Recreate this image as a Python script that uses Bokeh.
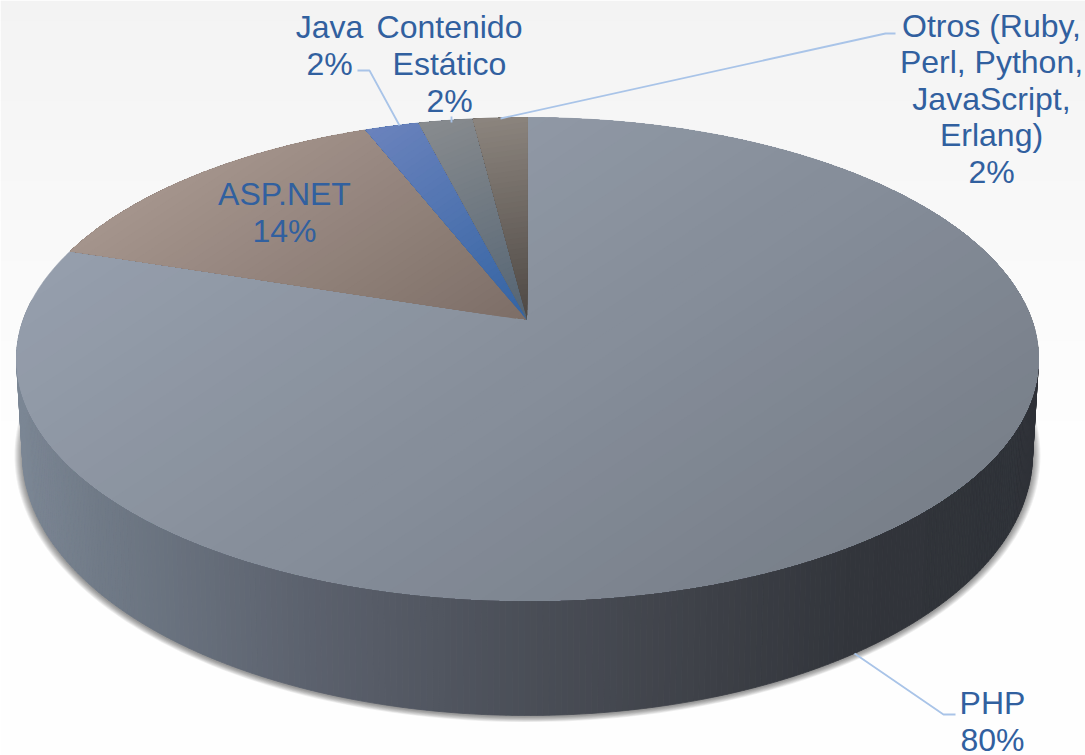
import numpy as np
from bokeh.embed import file_html
from bokeh.models import Range1d
from bokeh.core.properties import value
from bokeh.plotting import figure
from bokeh.resources import INLINE

# Web server technologies, listed clockwise from twelve o'clock.
categories = ["PHP", "ASP.NET", "Java", "Contenido Estático",
              "Otros (Ruby, Perl, Python, JavaScript, Erlang)"]
shares = [80, 14, 2, 2, 2]

label_lines = [["PHP"], ["ASP.NET"], ["Java"], ["Contenido", "Estático"],
               ["Otros (Ruby,", "Perl, Python,", "JavaScript,", "Erlang)"]]

W, H = 1085, 755
AX, AY = 527.0, 320.0          # where the slices meet on the tilted disc
FAR, NEAR = 203.0, 280.0       # distance from that point to the far and near rim
K = (NEAR - FAR) / (NEAR + FAR)
B = FAR * (1 + K)
RX = 511.0
A = RX * np.sqrt(1 - K * K)

TOP_CY, TOP_RY = AY + (NEAR - FAR) / 2, (NEAR + FAR) / 2
BOT_CX, BOT_CY, BOT_RX, BOT_RY = 527.0, 454.0, 505.0, 261.0


def disc(theta, r=1.0):
    """Project a polar position on the flat disc (theta clockwise from the top)."""
    u, v = r * np.sin(theta), r * np.cos(theta)
    d = 1 + K * v
    return AX + A * u / d, AY - B * v / d


def hexcol(c):
    return "#%02x%02x%02x" % tuple(int(round(v)) for v in c)


def keep_above(px, py, nx, ny, level):
    """Clip a polygon to the half-plane nx*x + ny*y >= level."""
    out_x, out_y = [], []
    n = len(px)
    for i in range(n):
        x0, y0, x1, y1 = px[i], py[i], px[(i + 1) % n], py[(i + 1) % n]
        d0, d1 = nx * x0 + ny * y0 - level, nx * x1 + ny * y1 - level
        if d0 >= 0:
            out_x.append(x0)
            out_y.append(y0)
        if (d0 >= 0) != (d1 >= 0):
            s = d0 / (d0 - d1)
            out_x.append(x0 + s * (x1 - x0))
            out_y.append(y0 + s * (y1 - y0))
    return out_x, out_y


# colours at both ends of the shading ramp of each slice: near its point, then at its rim
slice_shades = {
    "ASP.NET": ((125, 110, 103), (165, 149, 141)),
    "Java": ((52, 100, 163), (107, 131, 189)),
    "Contenido Estático": ((84, 100, 115), (137, 140, 143)),
    "Otros (Ruby, Perl, Python, JavaScript, Erlang)": ((78, 72, 68), (141, 134, 127)),
}
PHP_RAMP = ((149.0, 158.0, 172.0), (120.0, 127.0, 137.0))

p = figure(width=W, height=H, output_backend="svg", toolbar_location=None,
           x_range=Range1d(0, W), y_range=Range1d(H, 0), min_border=0,
           outline_line_color=None, background_fill_color="#ffffff",
           border_fill_color="#ffffff")
p.axis.visible = False
p.grid.visible = False

# pale backdrop, fading to white towards the bottom
ys = np.arange(0, H, 10)
bg = [hexcol(np.array((243, 243, 243)) + 11 * min(y / 430, 1)) for y in ys]
p.quad(left=0, right=W, top=ys, bottom=ys + 10.5, fill_color=bg, line_color=None)

# soft shadow under the disc's side wall
t = np.linspace(0, 2 * np.pi, 240)
for k in range(1, 9):
    grow = 9 - k
    p.patch(BOT_CX + (BOT_RX + grow) * np.cos(t), BOT_CY + 1 + (BOT_RY + grow * 0.7) * np.sin(t),
            fill_color="#000000", fill_alpha=0.06, line_color=None)

# side wall: strips running between the top rim and the bottom rim
wall_x = [15, 100, 300, 527, 700, 850, 1040]
wall_r = [124, 112, 92, 74, 62, 50, 46]
wall_g = [135, 122, 98, 78, 65, 53, 49]
wall_b = [149, 135, 110, 87, 72, 59, 55]
edges = np.radians(np.linspace(-14, 194, 300))
wxs, wys, wcs = [], [], []
for a0, a1 in zip(edges[:-1], edges[1:]):
    qx = [527 + RX * np.cos(a0), 527 + RX * np.cos(a1),
          BOT_CX + BOT_RX * np.cos(a1), BOT_CX + BOT_RX * np.cos(a0)]
    qy = [TOP_CY + TOP_RY * np.sin(a0), TOP_CY + TOP_RY * np.sin(a1),
          BOT_CY + BOT_RY * np.sin(a1), BOT_CY + BOT_RY * np.sin(a0)]
    mx = sum(qx) / 4
    wxs.append(qx)
    wys.append(qy)
    wcs.append(hexcol((np.interp(mx, wall_x, wall_r), np.interp(mx, wall_x, wall_g),
                       np.interp(mx, wall_x, wall_b))))
p.patches(wxs, wys, fill_color=wcs, line_color=wcs, line_width=0.8)

# top surface: a wedge per slice, then nested clipped copies that step through its ramp
total = sum(shares)
start = 0.0
base_x, base_y, base_c, band_x, band_y, band_c = [], [], [], [], [], []
for name, share in zip(categories, shares):
    span = share / total * 2 * np.pi
    arc = start + np.linspace(0, span, max(12, int(share * 6)))
    rim_x, rim_y = disc(arc)
    wedge_x = [AX] + list(rim_x)
    wedge_y = [AY] + list(rim_y)
    if name == "PHP":
        # darkens towards the lower right
        nx, ny, bands = 0.55, 0.83, 36
        c0, c1 = PHP_RAMP
    elif name == "ASP.NET":
        # lightens towards the upper left
        nx, ny, bands = -0.55, -0.83, 40
        c0, c1 = slice_shades[name]
    else:
        # darkens from the rim towards the point
        mx_, my_ = disc(start + span / 2)
        length = np.hypot(mx_ - AX, my_ - AY)
        nx, ny, bands = (mx_ - AX) / length, (my_ - AY) / length, 40
        c0, c1 = slice_shades[name]
    proj = nx * np.array(wedge_x) + ny * np.array(wedge_y)
    lo, hi = proj.min(), proj.max()
    base_x.append(wedge_x)
    base_y.append(wedge_y)
    base_c.append(hexcol(c0))
    for i in range(1, bands):
        f = i / bands
        cx_, cy_ = keep_above(wedge_x, wedge_y, nx, ny, lo + f * (hi - lo))
        if len(cx_) >= 3:
            band_x.append(cx_)
            band_y.append(cy_)
            band_c.append(hexcol(np.array(c0) + (np.array(c1) - np.array(c0)) * f))
    start += span
p.patches(base_x, base_y, fill_color=base_c, line_color=base_c, line_width=0.6)
p.patches(band_x, band_y, fill_color=band_c, line_color=None)

# leader lines from the labels to their slices
leaders = [
    ([854, 943, 955], [653, 714, 714]),
    ([357, 369, 399], [70, 70, 125]),
    ([451, 451], [116, 122]),
    ([500, 885, 895], [118, 33, 33]),
]
for lx, ly in leaders:
    p.line(lx, ly, line_color="#a9c4e8", line_width=1.8)

# labels, one text per line so the leading can be set exactly
label_pos = [(992, [702]), (284, [193]), (329, [26]), (449, [26, 63]),
             (991, [25, 61.5, 98, 134.5])]
tx, ty, tt = [], [], []
for lines, share, (cx, line_ys) in zip(label_lines, shares, label_pos):
    for line, y in zip(lines, line_ys):
        tx.append(cx); ty.append(y); tt.append(line)
    tx.append(cx); ty.append(line_ys[-1] + 37); tt.append(f"{share}%")
p.text(x=tx, y=ty, text=tt, text_font=value("Liberation Sans"), text_font_size="32px",
       text_color="#31609f", text_align="center", text_baseline="middle")

open("out.html", "w").write(file_html(p, INLINE))
